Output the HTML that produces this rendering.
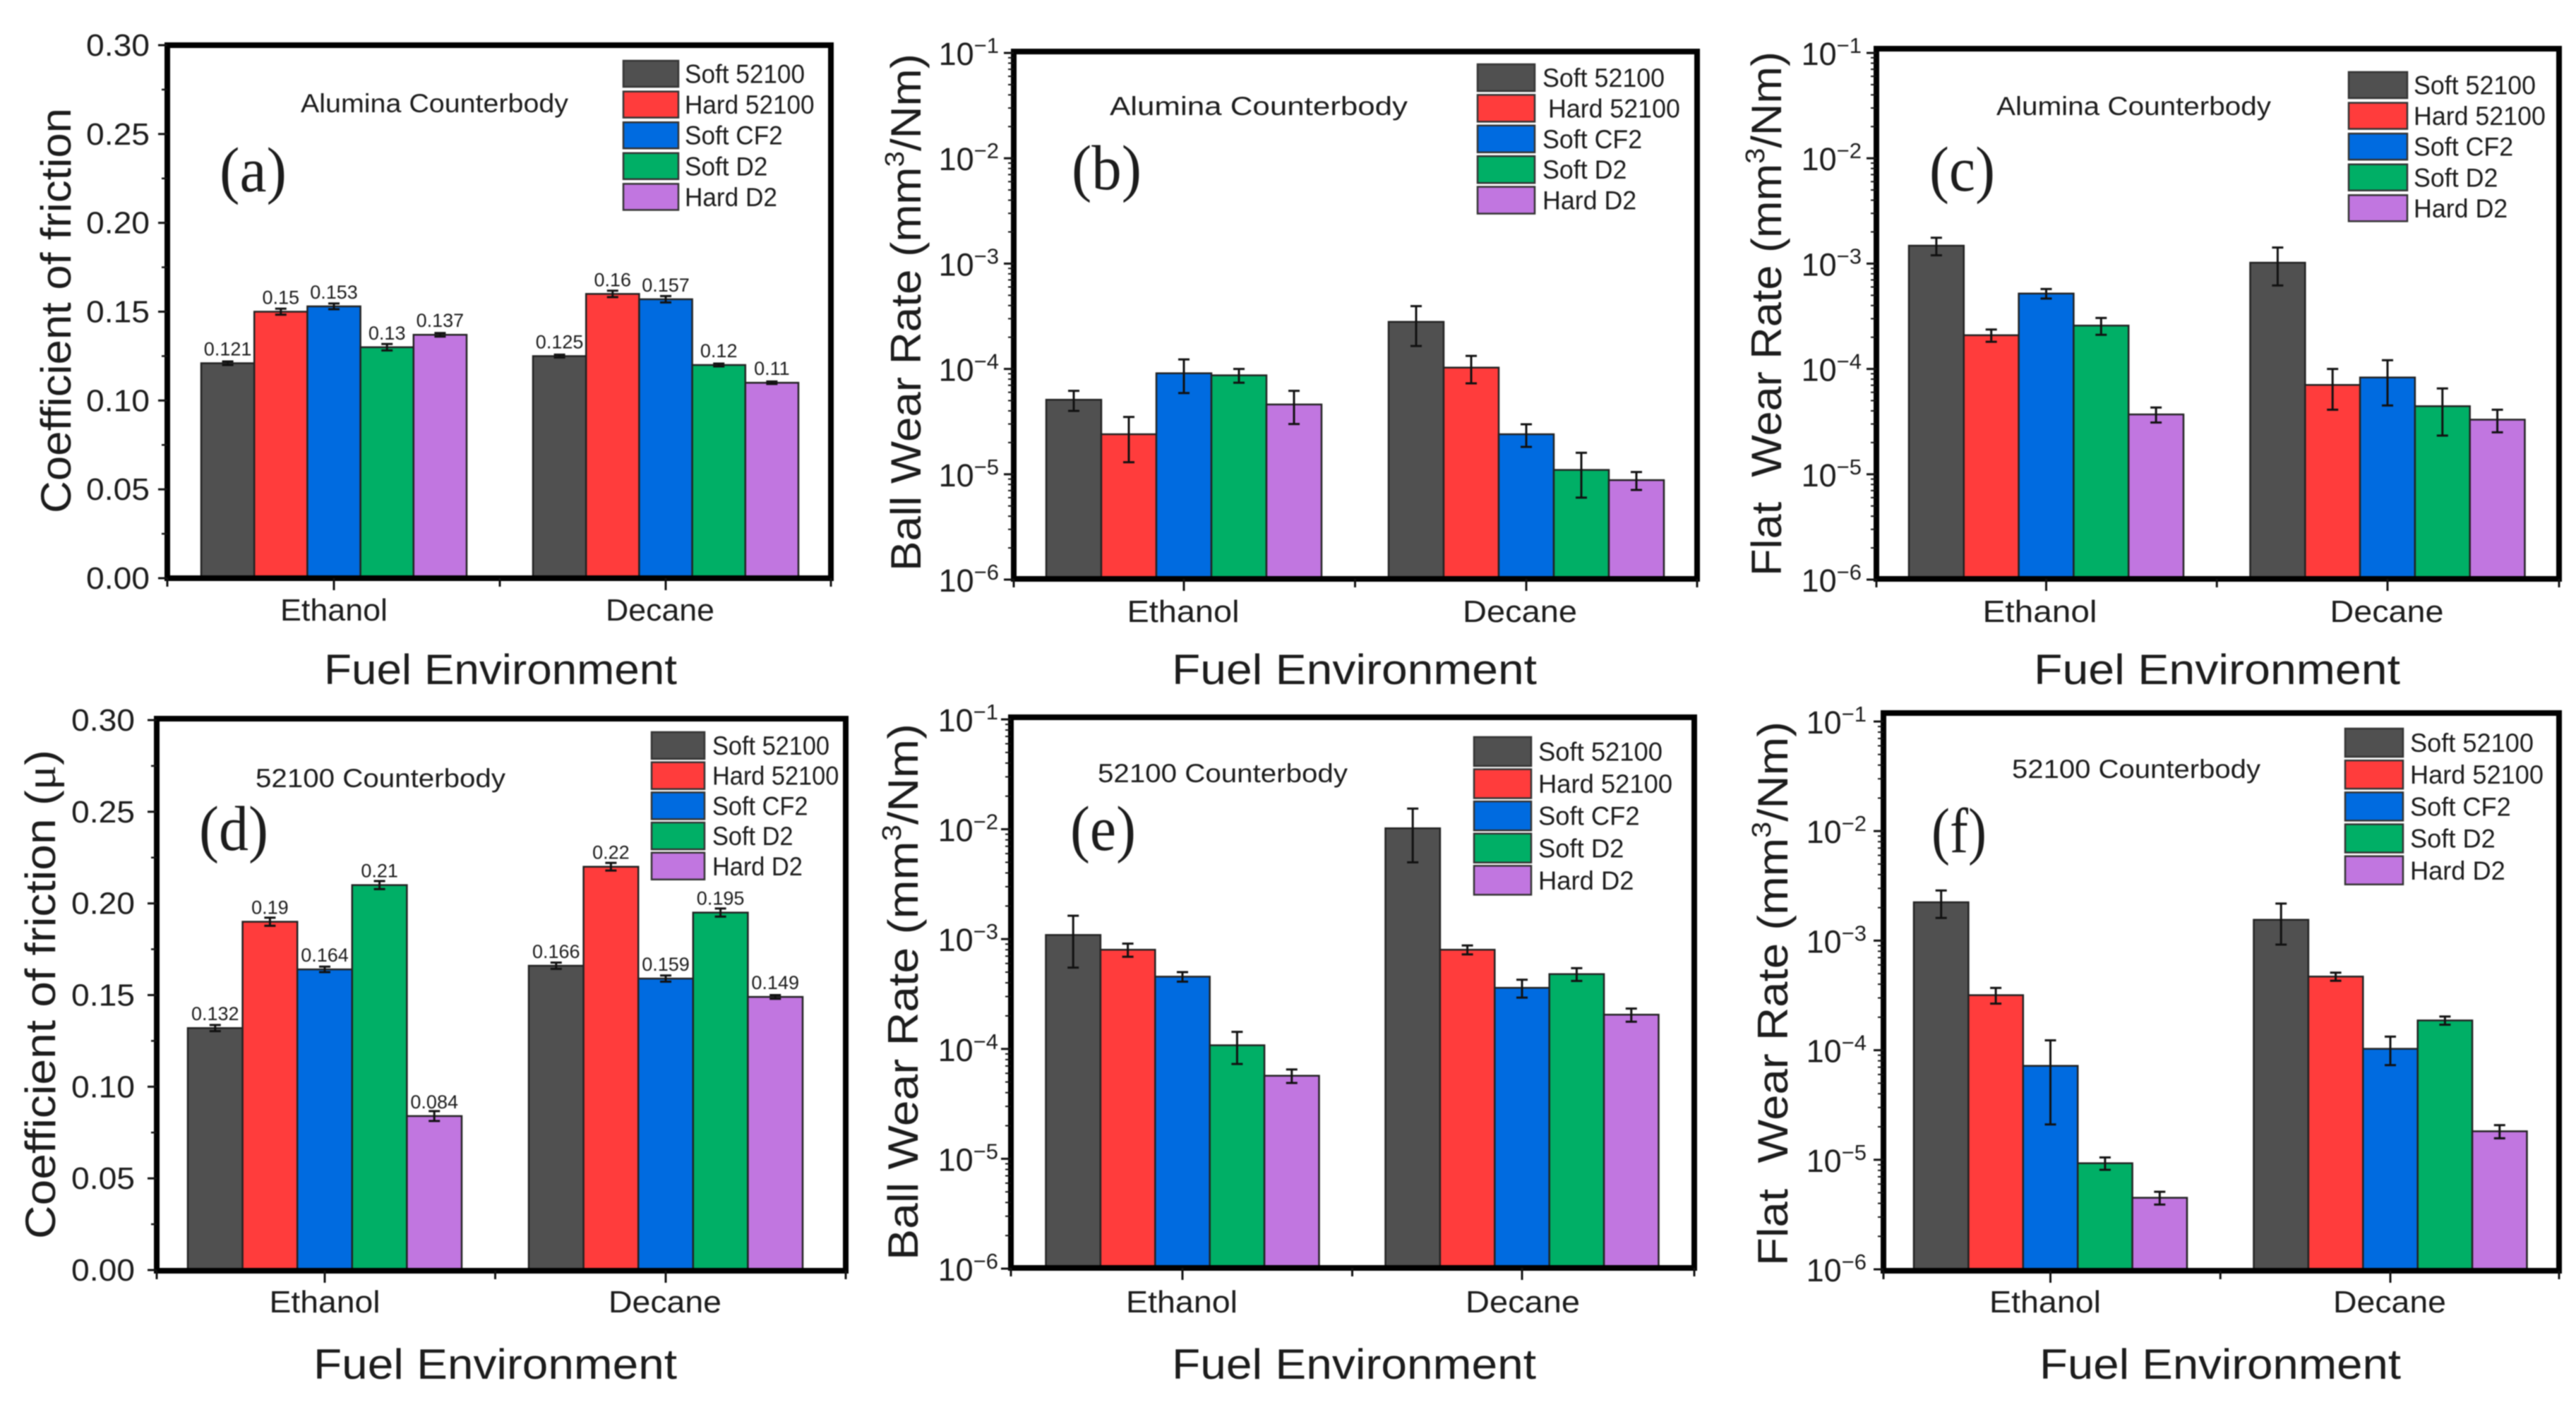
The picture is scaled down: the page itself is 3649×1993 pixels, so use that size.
<!DOCTYPE html>
<html lang="en">
<head>
<meta charset="utf-8">
<title>Friction and wear rate bar charts</title>
<style>
  html, body { margin: 0; padding: 0; background: #fff; }
  svg { display: block; filter: blur(0.8px); }
  text { font-family: "Liberation Sans", Arial, sans-serif; fill: #1c1c1c; white-space: pre; }
</style>
</head>
<body>
<svg id="figure" xmlns="http://www.w3.org/2000/svg" width="3649" height="1993" viewBox="0 0 3649 1993"></svg>
<script>
// ---------- Data ----------
const categories = ["Ethanol", "Decane"];
const seriesNames = ["Soft 52100", "Hard 52100", "Soft CF2", "Soft D2", "Hard D2"];

const valuesA = [0.121, 0.15, 0.153, 0.13, 0.137, 0.125, 0.16, 0.157, 0.12, 0.11];
const errorsA = [0.001, 0.0017, 0.0016, 0.0018, 0.001, 0.0008, 0.0018, 0.0018, 0.0008, 0.0007];

const valuesB = [5.1e-5, 2.4e-5, 9.1e-5, 8.7e-5, 4.6e-5, 2.8e-4, 1.03e-4, 2.4e-5, 1.1e-5, 8.8e-6];
const errorsB = [1.1e-5, 1.1e-5, 3.2e-5, 1.3e-5, 1.6e-5, 1.15e-4, 3e-5, 5.8e-6, 5e-6, 1.7e-6];

const valuesC = [1.48e-3, 2.09e-4, 5.2e-4, 2.58e-4, 3.7e-5, 1.02e-3, 7.05e-5, 8.3e-5, 4.43e-5, 3.3e-5];
const errorsC = [2.8e-4, 2.8e-5, 5.4e-5, 4.7e-5, 6e-6, 4e-4, 2.95e-5, 3.8e-5, 2.1e-5, 8e-6];

const valuesD = [0.132, 0.19, 0.164, 0.21, 0.084, 0.166, 0.22, 0.159, 0.195, 0.149];
const errorsD = [0.0017, 0.0022, 0.0015, 0.0022, 0.0027, 0.0017, 0.0021, 0.0017, 0.0022, 0.001];

const valuesE = [1.09e-3, 8e-4, 4.55e-4, 1.08e-4, 5.7e-5, 1.02e-2, 8e-4, 3.6e-4, 4.8e-4, 2.05e-4];
const errorsE = [5.4e-4, 1.1e-4, 4.5e-5, 3.5e-5, 8e-6, 5.2e-3, 7.5e-5, 6.7e-5, 6.4e-5, 2.8e-5];

const valuesF = [2.24e-3, 3.18e-4, 7.2e-5, 9.3e-6, 4.5e-6, 1.55e-3, 4.7e-4, 1.03e-4, 1.87e-4, 1.82e-5];
const errorsF = [6.3e-4, 5.2e-5, 5.1e-5, 1.2e-6, 6e-7, 6.3e-4, 4e-5, 3e-5, 1.6e-5, 2.5e-6];

const linearTicks = [0, 0.05, 0.1, 0.15, 0.2, 0.25, 0.3];
const linearTickLabels = ["0.00", "0.05", "0.10", "0.15", "0.20", "0.25", "0.30"];
const logTickExponents = [-1, -2, -3, -4, -5, -6];
const seriesColors = ["#505050", "#ff3c3c", "#006be0", "#00af66", "#c176e0"];
const legendWidthRatio = [1, 1.08, 0.816, 0.69, 0.77];

// ---------- Layout of each panel ----------
const panels = [
  { id: "a", kind: "linear", values: valuesA, errors: errorsA, printValues: true,
    L: 237, R: 1177, T: 64, B: 819, yTop: 64, yBase: 819,
    c0: 473, c1: 943, groupW: 376, tickRight: 212,
    title: ["Coefficient of friction"], titleX: 100, titleY: 727, titleLen: 574,
    note: "Alumina Counterbody", noteX: 426, noteY: 159, noteLen: 379,
    tag: "(a)", tagX: 311, tagY: 271, tagLen: 95,
    catY: 879, catX: [473, 935], catLen: [152, 154],
    xTitleX: 459, xTitleY: 969, xTitleLen: 500,
    legX: 883, legY: 86, legW: 78, legH: 37, legStep: 43.6, legTX: 970, legLen: 170, hardDx: 0 },
  { id: "b", kind: "log", values: valuesB, errors: errorsB, printValues: false,
    L: 1436, R: 2404, T: 73, B: 820, yTop: 75, yBase: 821,
    c0: 1677, c1: 2162, groupW: 390, tickRight: 1415,
    title: ["Ball Wear Rate (mm", "/Nm)"], titleX: 1304, titleY: 809, titleLen: 733,
    note: "Alumina Counterbody", noteX: 1572, noteY: 163, noteLen: 422,
    tag: "(b)", tagX: 1518, tagY: 268, tagLen: 99,
    catY: 881, catX: [1676, 2153], catLen: [159, 162],
    xTitleX: 1660, xTitleY: 969, xTitleLen: 517,
    legX: 2093, legY: 91, legW: 81, legH: 38, legStep: 43.4, legTX: 2185, legLen: 173, hardDx: 8 },
  { id: "c", kind: "log", values: valuesC, errors: errorsC, printValues: false,
    L: 2658, R: 3625, T: 69, B: 820, yTop: 75, yBase: 821,
    c0: 2898.5, c1: 3382, groupW: 389, tickRight: 2637,
    title: ["Flat  Wear Rate (mm", "/Nm)"], titleX: 2523, titleY: 816, titleLen: 743,
    note: "Alumina Counterbody", noteX: 2828, noteY: 163, noteLen: 389,
    tag: "(c)", tagX: 2733, tagY: 270, tagLen: 93,
    catY: 881, catX: [2889.5, 3381], catLen: [162, 161],
    xTitleX: 2881, xTitleY: 969, xTitleLen: 519,
    legX: 3327, legY: 102, legW: 83, legH: 37, legStep: 43.6, legTX: 3419, legLen: 173, hardDx: 0 },
  { id: "d", kind: "linear", values: valuesD, errors: errorsD, printValues: true,
    L: 222, R: 1198, T: 1018, B: 1800, yTop: 1020, yBase: 1799,
    c0: 460, c1: 943, groupW: 388, tickRight: 191,
    title: ["Coefficient of friction (", ")"], titleMu: true, titleX: 78, titleY: 1755, titleLen: 693,
    note: "52100 Counterbody", noteX: 362, noteY: 1115, noteLen: 354,
    tag: "(d)", tagX: 282, tagY: 1204, tagLen: 98,
    catY: 1859, catX: [460, 942], catLen: [157, 160],
    xTitleX: 444, xTitleY: 1953, xTitleLen: 515,
    legX: 923, legY: 1037, legW: 75, legH: 38, legStep: 42.7, legTX: 1009, legLen: 166, hardDx: 0 },
  { id: "e", kind: "log", values: valuesE, errors: errorsE, printValues: false,
    L: 1432, R: 2400, T: 1016, B: 1796, yTop: 1019, yBase: 1797,
    c0: 1675, c1: 2156, groupW: 387, tickRight: 1414,
    title: ["Ball Wear Rate (mm", "/Nm)"], titleX: 1300, titleY: 1785, titleLen: 760,
    note: "52100 Counterbody", noteX: 1555, noteY: 1108, noteLen: 354,
    tag: "(e)", tagX: 1516, tagY: 1204, tagLen: 93,
    catY: 1859, catX: [1674, 2157], catLen: [158, 162],
    xTitleX: 1660, xTitleY: 1953, xTitleLen: 516,
    legX: 2088, legY: 1044, legW: 81, legH: 41, legStep: 45.6, legTX: 2179, legLen: 176, hardDx: 0 },
  { id: "f", kind: "log", values: valuesF, errors: errorsF, printValues: false,
    L: 2668, R: 3625, T: 1010, B: 1800, yTop: 1022, yBase: 1798,
    c0: 2904.5, c1: 3386, groupW: 387, tickRight: 2644,
    title: ["Flat  Wear Rate (mm", "/Nm)"], titleX: 2532, titleY: 1793, titleLen: 771,
    note: "52100 Counterbody", noteX: 2850, noteY: 1102, noteLen: 352,
    tag: "(f)", tagX: 2736, tagY: 1207, tagLen: 78,
    catY: 1859, catX: [2897, 3385], catLen: [158, 160],
    xTitleX: 2889, xTitleY: 1953, xTitleLen: 512,
    legX: 3322, legY: 1032, legW: 82, legH: 40, legStep: 45.2, legTX: 3414, legLen: 175, hardDx: 0 }
];

// ---------- Helpers ----------
const SVG_NS = "http://www.w3.org/2000/svg";
const figure = document.getElementById("figure");

function make(parent, tag, attrs, content) {
  const node = document.createElementNS(SVG_NS, tag);
  for (const key in attrs) node.setAttribute(key, attrs[key]);
  if (content !== undefined) node.textContent = content;
  parent.appendChild(node);
  return node;
}

function slug(text) {
  return text.trim().toLowerCase().replace(/[^a-z0-9]+/g, "-");
}

function linearScale(p) {
  const max = linearTicks[linearTicks.length - 1];
  return v => p.yBase - (v / max) * (p.yBase - p.yTop);
}

function logScale(p) {
  const top = logTickExponents[0];
  const bottom = logTickExponents[logTickExponents.length - 1];
  return v => p.yBase - ((Math.log10(v) - bottom) / (top - bottom)) * (p.yBase - p.yTop);
}

function categoryCenter(p, c) {
  return p.c0 + c * (p.c1 - p.c0);
}

function drawYAxis(p, g, y) {
  const axis = make(g, "g", {});
  
  
  if (p.kind === "linear") {
    linearTicks.forEach((t, i) => {
      const py = y(t);
      const tick = make(axis, "line", { x1: p.L - 13, x2: p.L, y1: py, y2: py, stroke: "#111", "stroke-width": 3 });
      
      
      const label = make(axis, "text", {
        x: p.tickRight - 90, y: py + 15, "font-size": 44,
        textLength: 90, lengthAdjust: "spacingAndGlyphs"
      }, linearTickLabels[i]);
      
      
      if (i < linearTicks.length - 1) {
        const my = y((t + linearTicks[i + 1]) / 2);
        const minor = make(axis, "line", { x1: p.L - 8, x2: p.L, y1: my, y2: my, stroke: "#111", "stroke-width": 2.5 });
        
        
      }
    });
  } else {
    logTickExponents.forEach((e, i) => {
      const py = y(Math.pow(10, e));
      const tick = make(axis, "line", { x1: p.L - 14, x2: p.L, y1: py, y2: py, stroke: "#111", "stroke-width": 3 });
      
      
      const label = make(axis, "text", { x: p.tickRight, y: py + 17, "text-anchor": "end", "font-size": 45 });
      
      
      make(label, "tspan", {}, "10");
      make(label, "tspan", { dy: -17, "font-size": 31 }, "\u2212" + Math.abs(e));
      if (i < logTickExponents.length - 1) {
        for (let m = 2; m <= 9; m++) {
          const my = y(m * Math.pow(10, logTickExponents[i + 1]));
          const minor = make(axis, "line", { x1: p.L - 8, x2: p.L, y1: my, y2: my, stroke: "#111", "stroke-width": 2 });
          
          
        }
      }
    });
  }
}

function drawYTitle(p, g) {
  const title = make(g, "text", {
    x: 0, y: 0, "font-size": 60,
    textLength: p.titleLen, lengthAdjust: "spacingAndGlyphs",
    transform: "translate(" + p.titleX + " " + p.titleY + ") rotate(-90)"
  });
  
  
  make(title, "tspan", {}, p.title[0]);
  if (p.titleMu) {
    make(title, "tspan", { style: 'font-family:"Liberation Serif",serif' }, "\u03bc");
    make(title, "tspan", {}, p.title[1]);
  } else if (p.title.length > 1) {
    make(title, "tspan", { dy: -24, "font-size": 38 }, "3");
    make(title, "tspan", { dy: 24 }, p.title[1]);
  }
}

function drawBars(p, g, y) {
  const barW = p.groupW / seriesNames.length;
  categories.forEach((cat, c) => {
    const left = categoryCenter(p, c) - p.groupW / 2;
    seriesNames.forEach((name, s) => {
      const idx = c * seriesNames.length + s;
      const value = p.values[idx];
      const err = p.errors[idx];
      const x = left + s * barW;
      const top = y(value);
      const bar = make(g, "rect", {
        x: x, y: top, width: barW, height: p.yBase - top,
        fill: seriesColors[s], stroke: "#222", "stroke-width": 2.5
      });
      
      

      const cx = x + barW / 2;
      const hi = y(value + err);
      const lo = y(value - err);
      const errorBar = make(g, "path", {
        d: "M" + (cx - 8) + " " + hi + "H" + (cx + 8) + "M" + cx + " " + hi + "V" + lo + "M" + (cx - 8) + " " + lo + "H" + (cx + 8),
        fill: "none", stroke: "#111", "stroke-width": 3
      });
      
      

      if (p.printValues) {
        const label = make(g, "text", {
          x: cx, y: top - 11, "text-anchor": "middle", "font-size": 27, fill: "#333"
        }, String(value));
        
        
      }
    });
  });
}

function drawFrame(p, g) {
  const frame = make(g, "rect", {
    x: p.L, y: p.T, width: p.R - p.L, height: p.B - p.T,
    fill: "none", stroke: "#000", "stroke-width": 8
  });
  
  
}

function drawXAxis(p, g) {
  const mid = (p.c0 + p.c1) / 2;
  [p.L, mid, p.R].forEach(x => {
    const minor = make(g, "line", { x1: x, x2: x, y1: p.B, y2: p.B + 12, stroke: "#111", "stroke-width": 3 });
    
    
  });
  categories.forEach((cat, c) => {
    const x = categoryCenter(p, c);
    const tick = make(g, "line", { x1: x, x2: x, y1: p.B, y2: p.B + 17, stroke: "#111", "stroke-width": 3 });
    
    
    const label = make(g, "text", {
      x: p.catX[c] - p.catLen[c] / 2, y: p.catY, "font-size": 44,
      textLength: p.catLen[c], lengthAdjust: "spacingAndGlyphs"
    }, cat);
    
    
  });
  const title = make(g, "text", {
    x: p.xTitleX, y: p.xTitleY, "font-size": 60,
    textLength: p.xTitleLen, lengthAdjust: "spacingAndGlyphs"
  }, "Fuel Environment");
  
  
}

function drawLegend(p, g) {
  const legend = make(g, "g", {});
  
  
  seriesNames.forEach((name, s) => {
    const top = p.legY + s * p.legStep;
    const swatch = make(legend, "rect", {
      x: p.legX, y: top, width: p.legW, height: p.legH,
      fill: seriesColors[s], stroke: "#333", "stroke-width": 2.5
    });
    
    
    const dx = s === 1 ? p.hardDx : 0;
    const label = make(legend, "text", {
      x: p.legTX + dx, y: top + p.legH / 2 + 13, "font-size": 37,
      textLength: p.legLen * legendWidthRatio[s], lengthAdjust: "spacingAndGlyphs"
    }, name);
    
    
  });
}

function drawPanel(p) {
  const g = make(figure, "g", {});
  
  
  const y = p.kind === "linear" ? linearScale(p) : logScale(p);

  drawBars(p, g, y);
  drawFrame(p, g);
  drawYAxis(p, g, y);
  drawYTitle(p, g);
  drawXAxis(p, g);
  drawLegend(p, g);

  const note = make(g, "text", {
    x: p.noteX, y: p.noteY, "font-size": 37,
    textLength: p.noteLen, lengthAdjust: "spacingAndGlyphs", fill: "#222"
  }, p.note);
  
  

  const tag = make(g, "text", {
    x: p.tagX, y: p.tagY, "font-size": 90,
    textLength: p.tagLen, lengthAdjust: "spacingAndGlyphs",
    style: 'font-family:"Liberation Serif",serif'
  }, p.tag);
  
  
}

panels.forEach(drawPanel);
</script>
</body>
</html>
